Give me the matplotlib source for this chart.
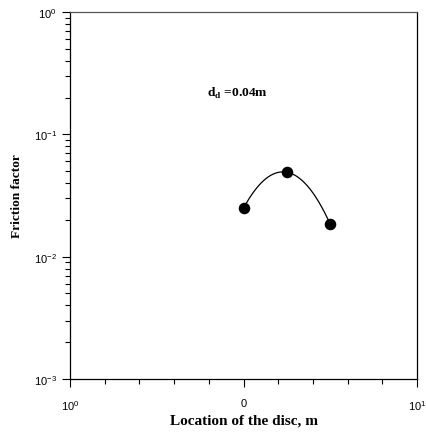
import numpy as np
import matplotlib
matplotlib.use("Agg")
import matplotlib.pyplot as plt
from matplotlib.ticker import FixedLocator, FixedFormatter, LogLocator, NullFormatter

# Data
location = [0.0, 0.025, 0.05]
friction = [0.0249, 0.049, 0.0184]
x_major = [-0.1, 0.0, 0.1]
x_major_labels = ['$\\mathregular{10^0}$', '0', '$\\mathregular{10^1}$']
x_minor = [-0.08, -0.06, -0.04, -0.02, 0.02, 0.04, 0.06, 0.08]

plt.rcParams['font.family'] = ['Liberation Sans', 'DejaVu Sans']
plt.rcParams['mathtext.fontset'] = 'custom'
plt.rcParams['mathtext.rm'] = 'Liberation Sans'

fig = plt.figure(figsize=(4.26, 4.35), dpi=100)
ax = fig.add_axes([70/426, 55/435, 347/426, 367/435])

# smooth curve through the points (quadratic in log space)
xs = np.array(location)
ys = np.log10(friction)
coef = np.polyfit(xs, ys, 2)
xx = np.linspace(xs.min(), xs.max(), 200)
ax.plot(xx, 10**np.polyval(coef, xx), color='black', lw=0.9)
ax.plot(location, friction, 'o', color='black', ms=7.3)

ax.set_yscale('log')
ax.set_ylim(1e-3, 1)
ax.set_xlim(-0.1, 0.1)

ax.xaxis.set_major_locator(FixedLocator(x_major))
ax.xaxis.set_major_formatter(FixedFormatter(x_major_labels))
ax.xaxis.set_minor_locator(FixedLocator(x_minor))
ax.yaxis.set_major_locator(LogLocator(base=10, numticks=10))
ax.yaxis.set_minor_locator(LogLocator(base=10, subs=np.arange(2, 10), numticks=10))
ax.yaxis.set_minor_formatter(NullFormatter())

ax.tick_params(which='major', direction='out', length=6, width=0.8, labelsize=8, color='black')
ax.tick_params(which='minor', direction='out', length=3.5, width=0.8, color='black')
ax.tick_params(top=False, right=False, which='both')
ax.tick_params(axis='x', pad=8)

for s in ax.spines.values():
    s.set_linewidth(0.9)
    s.set_color('black')
ax.spines['top'].set_color('#555555')

ax.set_xlabel('Location of the disc, m', family='Liberation Serif', fontweight='bold', fontsize=11, labelpad=1)
ax.set_ylabel('Friction factor', family='Liberation Serif', fontweight='bold', fontsize=9.6, labelpad=8)

ax.text(-0.0213, 0.222, 'd$_{\\mathregular{d}}$ =0.04m', family='Liberation Serif', fontweight='bold', fontsize=9.7, ha='left', va='center')

fig.savefig('out.png', dpi=100)
